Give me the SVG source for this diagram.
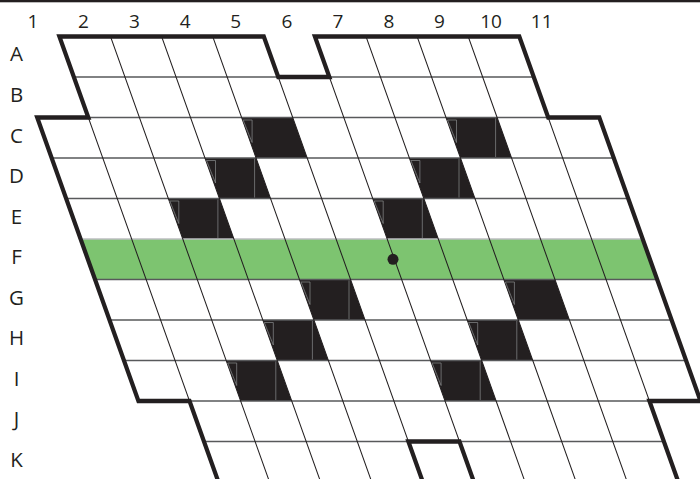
<svg xmlns="http://www.w3.org/2000/svg" width="700" height="479" viewBox="0 0 700 479">
<style>
.lbl{font-family:"Open Sans","Liberation Sans",sans-serif;fill:#231f20;text-anchor:middle}
.num{font-size:19px}
.row{font-size:20.5px}
.blk{fill:#231f20}
.hl{stroke:#58595b;stroke-width:1.3;fill:none}
.vl{stroke:#231f20;stroke-width:1.1;fill:none}
.edge{stroke:#231f20;stroke-width:4.5;fill:none;stroke-linejoin:miter;stroke-miterlimit:10}
.art{stroke:#8a8c8e;stroke-width:0.7;fill:none}
</style>
<rect width="700" height="479" fill="#ffffff"/>
<rect x="0" y="0" width="700" height="2.3" fill="#231f20"/>
<g id="grid" transform="matrix(1 0 0.357 1 -13.0305 0)">
  <rect id="row-F-band" x="8.3" y="239" width="562.1" height="40.5" fill="#7dc470"/>
  <g id="black-cells" class="blk">
    <rect x="212.7" y="117.5" width="51.1" height="40.5"/>
    <rect x="417.1" y="117.5" width="51.1" height="40.5"/>
    <rect x="161.6" y="158" width="51.1" height="40.5"/>
    <rect x="366" y="158" width="51.1" height="40.5"/>
    <rect x="110.5" y="198.5" width="51.1" height="40.5"/>
    <rect x="314.9" y="198.5" width="51.1" height="40.5"/>
    <rect x="212.7" y="279.5" width="51.1" height="40.5"/>
    <rect x="417.1" y="279.5" width="51.1" height="40.5"/>
    <rect x="161.6" y="320" width="51.1" height="40.5"/>
    <rect x="366" y="320" width="51.1" height="40.5"/>
    <rect x="110.5" y="360.5" width="51.1" height="40.5"/>
    <rect x="314.9" y="360.5" width="51.1" height="40.5"/>
  </g>
  <g id="row-lines" class="hl">
    <path d="M59.4 77H519.3M8.3 117.5H570.4M8.3 158H570.4M8.3 198.5H570.4M8.3 279.5H570.4M8.3 320H570.4M8.3 360.5H570.4M8.3 401H570.4M59.4 441.5H519.3"/>
    <path d="M8.3 239H570.4" stroke="#bcbec0"/>
  </g>
  <g id="column-lines" class="vl">
    <path d="M59.4 117.5V401M110.5 36.5V482M161.6 36.5V482M212.7 36.5V482M263.8 77V441.5M314.9 77V441.5M366 36.5V482M417.1 36.5V482M468.2 36.5V482M519.3 117.5V401"/>
  </g>
  <g id="outline" class="edge">
    <path d="M59.4 482V401H8.3V117.5H59.4V36.5H263.8V77H314.9V36.5H519.3V117.5H570.4V401H519.3V482"/>
    <path d="M263.8 482V441.5H314.9V482"/>
  </g>
</g>
<g id="cell-seams" class="art">
  <polygon points="243.1,120 252.1,120 252.1,142.5"/>
  <polygon points="447.5,120 456.5,120 456.5,142.5"/>
  <polygon points="206.5,160.5 215.5,160.5 215.5,183"/>
  <polygon points="410.9,160.5 419.9,160.5 419.9,183"/>
  <polygon points="169.8,201 178.8,201 178.8,223.5"/>
  <polygon points="374.2,201 383.2,201 383.2,223.5"/>
  <polygon points="301,282 310,282 310,304.5"/>
  <polygon points="505.4,282 514.4,282 514.4,304.5"/>
  <polygon points="264.3,322.5 273.3,322.5 273.3,345"/>
  <polygon points="468.7,322.5 477.7,322.5 477.7,345"/>
  <polygon points="227.7,363 236.7,363 236.7,385.5"/>
  <polygon points="432.1,363 441.1,363 441.1,385.5"/>
  <path d="M495.6 118.5V157M254.6 159V197.5M459 159V197.5M217.9 199.5V238M422.3 199.5V238M349 280.5V319M312.4 321V359.5M516.8 321V359.5M275.8 361.5V400M480.2 361.5V400"/>
</g>
<circle id="marker-dot" cx="393" cy="259.3" r="5.5" fill="#231f20"/>
<g id="column-labels" class="lbl num">
  <text x="33" y="27.5">1</text>
  <text x="83.5" y="27.5">2</text>
  <text x="134.5" y="27.5">3</text>
  <text x="185.3" y="27.5">4</text>
  <text x="235.8" y="27.5">5</text>
  <text x="287" y="27.5">6</text>
  <text x="338" y="27.5">7</text>
  <text x="389" y="27.5">8</text>
  <text x="439.5" y="27.5">9</text>
  <text x="491" y="27.5">10</text>
  <text x="541.7" y="27.5">11</text>
</g>
<g id="row-labels" class="lbl row">
  <text x="16.5" y="61">A</text>
  <text x="16.5" y="102">B</text>
  <text x="16.5" y="142.5">C</text>
  <text x="16.5" y="183">D</text>
  <text x="16.5" y="223.5">E</text>
  <text x="16.5" y="264">F</text>
  <text x="16.5" y="304.5">G</text>
  <text x="16.5" y="345">H</text>
  <text x="16.5" y="385.5">I</text>
  <text x="16.5" y="426">J</text>
  <text x="16.5" y="466.5">K</text>
</g>
</svg>
